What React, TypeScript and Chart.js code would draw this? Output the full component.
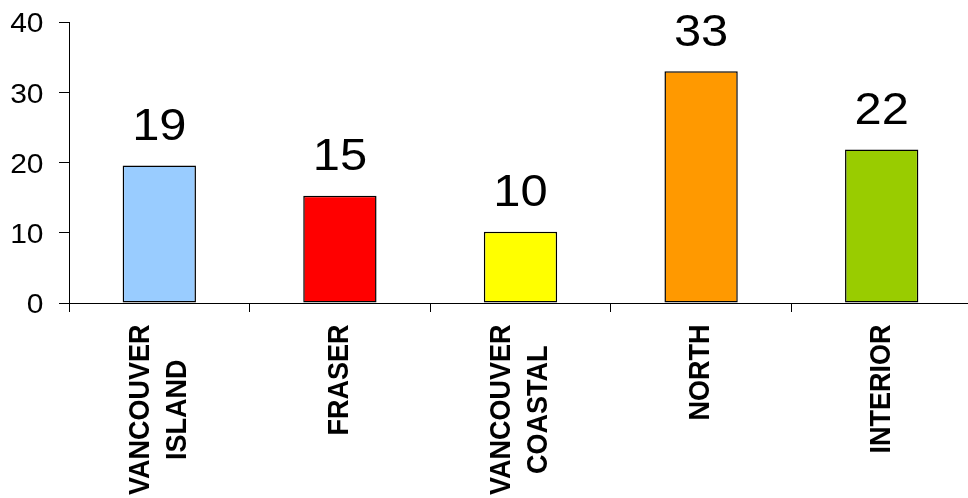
import React, { useEffect, useRef } from "react";
import { Chart, registerables } from "chart.js";

Chart.register(...registerables);

const categories: string[][] = [
  ["VANCOUVER", "ISLAND"],
  ["FRASER"],
  ["VANCOUVER", "COASTAL"],
  ["NORTH"],
  ["INTERIOR"],
];
const values: number[] = [19.57, 15.26, 10.14, 33.0, 21.85];
const valueLabels: string[] = ["19", "15", "10", "33", "22"];
const barColors: string[] = ["#99CCFF", "#FF0000", "#FFFF00", "#FF9900", "#99CC00"];
const yTicks = { min: 0, max: 40, step: 10 };

const FONT = '"Liberation Sans", Arial, Helvetica, sans-serif';
const SX = 1.11;

const textPlugin = {
  id: "customText",
  afterDraw(chart: any) {
    const ctx = chart.ctx as CanvasRenderingContext2D;
    const xScale = chart.scales.x;
    const yScale = chart.scales.y;
    ctx.save();
    ctx.fillStyle = "#000";

    // y tick labels
    ctx.font = `27px ${FONT}`;
    ctx.textAlign = "right";
    ctx.textBaseline = "alphabetic";
    const yRight = 43.5;
    yScale.ticks.forEach((t: any) => {
      const y = yScale.getPixelForValue(t.value);
      ctx.save();
      ctx.translate(yRight, y + 10.3);
      ctx.scale(SX, 1);
      ctx.fillText(String(t.value), 0, 0);
      ctx.restore();
    });

    // value labels above bars
    const meta = chart.getDatasetMeta(0);
    ctx.font = `44px ${FONT}`;
    ctx.textAlign = "center";
    meta.data.forEach((bar: any, i: number) => {
      ctx.save();
      ctx.translate(bar.x, bar.y - 25.5);
      ctx.scale(SX, 1);
      ctx.fillText(valueLabels[i], 0, 0);
      ctx.restore();
    });

    // rotated category labels
    ctx.font = `bold 27px ${FONT}`;
    const yTop = yScale.getPixelForValue(0) + 21.5;
    const lineH = 36.7 / SX;
    categories.forEach((lines, i) => {
      const cx = xScale.getPixelForValue(i);
      const W = Math.max(...lines.map((l) => ctx.measureText(l).width));
      ctx.save();
      ctx.translate(cx, yTop);
      ctx.scale(SX, 1);
      ctx.rotate(-Math.PI / 2);
      ctx.textAlign = "center";
      ctx.textBaseline = "middle";
      lines.forEach((l, j) => {
        const off = (j - (lines.length - 1) / 2) * lineH;
        ctx.fillText(l, -W / 2, off);
      });
      ctx.restore();
    });
    ctx.restore();
  },
};

export default function App() {
  const ref = useRef<HTMLCanvasElement>(null);
  useEffect(() => {
    if (!ref.current) return;
    const chart = new Chart(ref.current, {
      type: "bar",
      data: {
        labels: categories.map((c) => c.join(" ")),
        datasets: [
          {
            data: values,
            backgroundColor: barColors,
            borderColor: "#000",
            borderWidth: 1.5,
            borderSkipped: false,
            barPercentage: 0.406,
            categoryPercentage: 1,
          },
        ],
      },
      options: {
        animation: false,
        responsive: false,
        layout: { padding: { top: 22, left: 0, right: 0, bottom: 0 } },
        plugins: { legend: { display: false }, tooltip: { enabled: false } },
        scales: {
          x: {
            offset: true,
            grid: {
              offset: true,
              drawOnChartArea: false,
              drawTicks: true,
              tickLength: 9,
              color: "#000",
              lineWidth: 1,
            },
            border: { color: "#000", width: 1 },
            ticks: { display: false },
            afterFit: (s: any) => {
              s.height = 195;
            },
          },
          y: {
            min: yTicks.min,
            max: yTicks.max,
            ticks: { display: false, stepSize: yTicks.step },
            grid: {
              drawOnChartArea: false,
              drawTicks: true,
              tickLength: 10,
              color: "#000",
              lineWidth: 1,
            },
            border: { color: "#000", width: 1 },
            afterFit: (s: any) => {
              s.width = 69;
            },
          },
        },
      },
      plugins: [textPlugin],
    });
    return () => chart.destroy();
  }, []);
  return (
    <div
      style={{
        position: "absolute",
        left: 0,
        top: 0,
        width: 968,
        height: 498,
        overflow: "hidden",
        background: "#fff",
      }}
    >
      <canvas
        ref={ref}
        width={972}
        height={498}
        style={{ display: "block", width: 972, height: 498 }}
      />
    </div>
  );
}
